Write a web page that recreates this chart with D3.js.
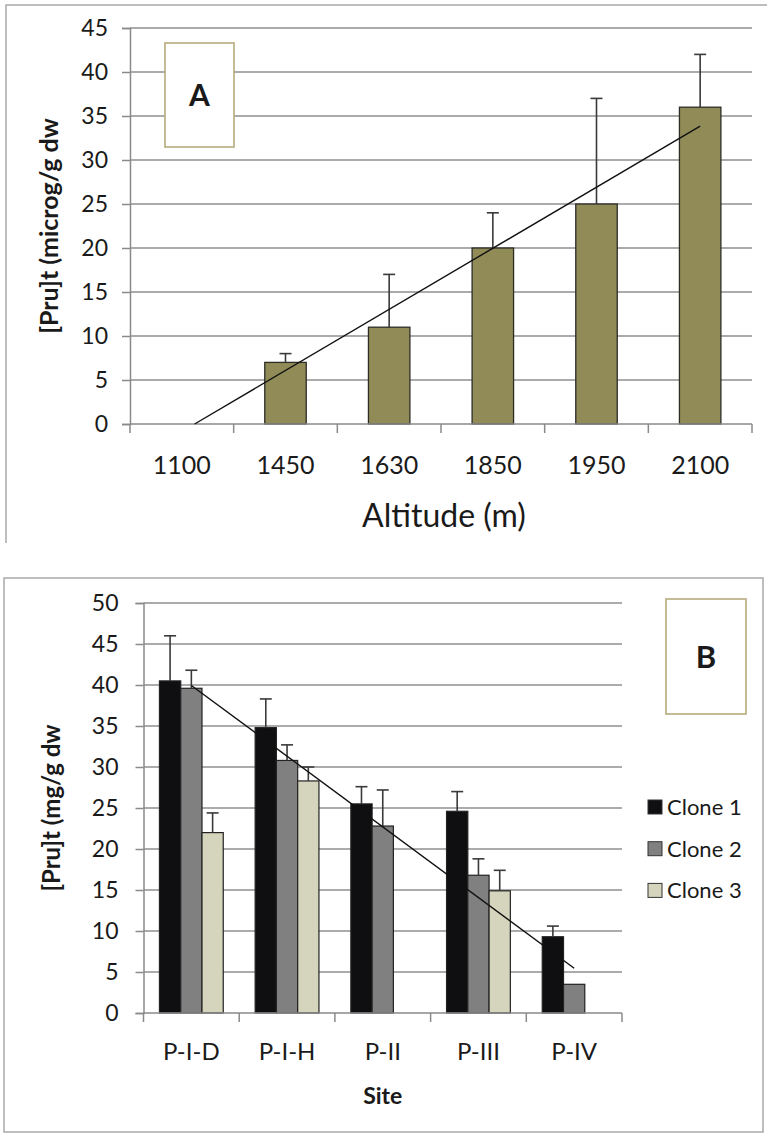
<!DOCTYPE html>
<html>
<head>
<meta charset="utf-8">
<script src="https://cdn.jsdelivr.net/npm/d3@7"></script>
<style>
  html, body { margin: 0; padding: 0; background: #fff; }
  svg { display: block; }
  text { font-family: Lato, "Open Sans", sans-serif; fill: #1a1a1a; }
</style>
</head>
<body>
<svg id="fig" width="767" height="1134"></svg>
<script>
// Panel A: prunasin content by altitude
const altitudes = ["1100", "1450", "1630", "1850", "1950", "2100"];
const pruA = [0, 7, 11, 20, 25, 36];
const pruAErr = [0, 1, 6, 4, 12, 6];
const ticksA = [0, 5, 10, 15, 20, 25, 30, 35, 40, 45];

// Panel B: prunasin content by site and clone
const sites = ["P-I-D", "P-I-H", "P-II", "P-III", "P-IV"];
const cloneNames = ["Clone 1", "Clone 2", "Clone 3"];
const clone1 = [40.5, 34.8, 25.5, 24.6, 9.3];
const clone2 = [39.6, 30.8, 22.8, 16.8, 3.5];
const clone3 = [22.0, 28.3, null, 14.9, null];
const clone1Err = [5.5, 3.5, 2.1, 2.4, 1.3];
const clone2Err = [2.2, 1.9, 4.4, 2.0, 0];
const clone3Err = [2.4, 1.7, null, 2.5, null];
const ticksB = [0, 5, 10, 15, 20, 25, 30, 35, 40, 45, 50];

const svg = d3.select("#fig");
const gridColor = "#8f8f8f";
const axisColor = "#8a8a8a";

// least-squares line through (i+1, v)
function linFit(vals) {
  const pts = vals.map((v, i) => [i + 1, v]).filter(p => p[1] != null);
  const mx = d3.mean(pts, p => p[0]), my = d3.mean(pts, p => p[1]);
  const sxy = d3.sum(pts, p => (p[0] - mx) * (p[1] - my));
  const sxx = d3.sum(pts, p => (p[0] - mx) ** 2);
  const b = sxy / sxx, a = my - b * mx;
  return { a, b };
}

function valueAxis(g, y, ticks, x0, x1, pad) {
  g.append("g").selectAll("line").data(ticks.filter(t => t > 0)).join("line")
    .attr("x1", x0).attr("x2", x1)
    .attr("y1", d => y(d)).attr("y2", d => y(d))
    .attr("stroke", gridColor).attr("stroke-width", 1.5);
  const ax = d3.axisLeft(y).tickValues(ticks).tickSize(8).tickPadding(pad);
  const a = g.append("g").attr("transform", `translate(${x0},0)`).call(ax);
  a.select(".domain").attr("stroke", axisColor).attr("stroke-width", 1.5);
  a.selectAll(".tick line").attr("stroke", axisColor).attr("stroke-width", 1.5);
  a.selectAll(".tick text").attr("font-size", 23).attr("fill", "#1a1a1a")
    .attr("font-family", "Lato, 'Open Sans', sans-serif");
  return a;
}

function categoryAxis(g, x, y0, n) {
  const bw = x.step();
  const r = x.range();
  g.append("line").attr("x1", r[0]).attr("x2", r[1]).attr("y1", y0).attr("y2", y0)
    .attr("stroke", axisColor).attr("stroke-width", 1.5);
  g.append("g").selectAll("line").data(d3.range(n + 1)).join("line")
    .attr("x1", i => r[0] + i * bw).attr("x2", i => r[0] + i * bw)
    .attr("y1", y0).attr("y2", y0 + 9)
    .attr("stroke", axisColor).attr("stroke-width", 1.5);
}

// ---------------- Panel A ----------------
{
  const g = svg.append("g");
  g.append("path").attr("d", "M6,543 V5 H767").attr("fill", "none")
    .attr("stroke", "#a9a9a9").attr("stroke-width", 1.5);

  const x0 = 130, x1 = 752, yTop = 28, yBot = 424;
  const y = d3.scaleLinear().domain([0, 45]).range([yBot, yTop]);
  const x = d3.scaleBand().domain(altitudes).range([x0, x1]).paddingInner(0.6).paddingOuter(0.3);
  const xc = d => x(d) + x.bandwidth() / 2;

  valueAxis(g, y, ticksA, x0, x1, 14);

  const rows = altitudes.map((k, i) => ({ k, v: pruA[i], e: pruAErr[i] }));
  g.append("g").selectAll("rect").data(rows.filter(d => d.v > 0)).join("rect")
    .attr("x", d => x(d.k)).attr("width", x.bandwidth())
    .attr("y", d => y(d.v)).attr("height", d => y(0) - y(d.v))
    .attr("fill", "#918b57").attr("stroke", "#2d2d28").attr("stroke-width", 1.3);

  // error bars (upper only)
  const eg = g.append("g").attr("stroke", "#3a3a3a").attr("stroke-width", 1.6);
  rows.filter(d => d.e > 0).forEach(d => {
    eg.append("line").attr("x1", xc(d.k)).attr("x2", xc(d.k)).attr("y1", y(d.v)).attr("y2", y(d.v + d.e));
    eg.append("line").attr("x1", xc(d.k) - 6).attr("x2", xc(d.k) + 6).attr("y1", y(d.v + d.e)).attr("y2", y(d.v + d.e));
  });

  categoryAxis(g, x, yBot, altitudes.length);

  // linear trend, clipped at the axis minimum
  const f = linFit(pruA);
  const pos = i => xc(altitudes[0]) + (i - 1) * x.step();
  let s = 1;
  if (f.a + f.b * s < 0) s = -f.a / f.b;
  const e = altitudes.length;
  g.append("line")
    .attr("x1", pos(s)).attr("y1", y(f.a + f.b * s))
    .attr("x2", pos(e)).attr("y2", y(f.a + f.b * e))
    .attr("stroke", "#111").attr("stroke-width", 1.4);

  g.append("g").selectAll("text").data(altitudes).join("text")
    .attr("x", d => xc(d)).attr("y", 474).attr("text-anchor", "middle")
    .attr("font-size", 25).text(d => d);

  g.append("text").attr("x", 444).attr("y", 527).attr("text-anchor", "middle")
    .attr("font-size", 32).text("Altitude (m)");

  g.append("text").attr("transform", `translate(58,${(yTop + yBot) / 2}) rotate(-90)`)
    .attr("text-anchor", "middle").attr("font-size", 25).attr("font-weight", 700)
    .text("[Pru]t (microg/g dw");

  g.append("rect").attr("x", 165).attr("y", 43).attr("width", 69).attr("height", 104)
    .attr("fill", "#fff").attr("stroke", "#b7aa7c").attr("stroke-width", 1.6);
  g.append("text").attr("x", 199.5).attr("y", 106).attr("text-anchor", "middle")
    .attr("font-size", 30).attr("font-weight", 700).text("A");
}

// ---------------- Panel B ----------------
{
  const g = svg.append("g");
  g.append("rect").attr("x", 4).attr("y", 578).attr("width", 759).attr("height", 554)
    .attr("fill", "none").attr("stroke", "#a9a9a9").attr("stroke-width", 1.5);

  const x0 = 143.5, x1 = 622, yTop = 603, yBot = 1013;
  const y = d3.scaleLinear().domain([0, 50]).range([yBot, yTop]);
  const x = d3.scaleBand().domain(sites).range([x0, x1]).paddingInner(1.5 / 4.5).paddingOuter(0.75 / 4.5);
  const xs = d3.scaleBand().domain(cloneNames).range([0, x.bandwidth()]);
  const xc = d => x(d) + x.bandwidth() / 2;

  valueAxis(g, y, ticksB, x0, x1, 17);

  const series = [clone1, clone2, clone3];
  const errs = [clone1Err, clone2Err, clone3Err];
  const fills = ["#0f0f12", "#808080", "#d5d4bc"];

  const rows = [];
  sites.forEach((s, i) => cloneNames.forEach((c, j) => {
    if (series[j][i] != null) rows.push({ s, c, j, v: series[j][i], e: errs[j][i] });
  }));

  g.append("g").selectAll("rect").data(rows).join("rect")
    .attr("x", d => x(d.s) + xs(d.c)).attr("width", xs.bandwidth())
    .attr("y", d => y(d.v)).attr("height", d => y(0) - y(d.v))
    .attr("fill", d => fills[d.j]).attr("stroke", "#222").attr("stroke-width", 1.2);

  const eg = g.append("g").attr("stroke", "#3a3a3a").attr("stroke-width", 1.6);
  rows.filter(d => d.e > 0).forEach(d => {
    const cx = x(d.s) + xs(d.c) + xs.bandwidth() / 2;
    eg.append("line").attr("x1", cx).attr("x2", cx).attr("y1", y(d.v)).attr("y2", y(d.v + d.e));
    eg.append("line").attr("x1", cx - 6).attr("x2", cx + 6).attr("y1", y(d.v + d.e)).attr("y2", y(d.v + d.e));
  });

  categoryAxis(g, x, yBot, sites.length);

  // linear trend of Clone 2
  const f = linFit(clone2);
  const pos = i => xc(sites[0]) + (i - 1) * x.step();
  const n = sites.length;
  g.append("line")
    .attr("x1", pos(1)).attr("y1", y(f.a + f.b))
    .attr("x2", pos(n)).attr("y2", y(f.a + f.b * n))
    .attr("stroke", "#111").attr("stroke-width", 1.4);

  g.append("g").selectAll("text").data(sites).join("text")
    .attr("x", d => xc(d)).attr("y", 1060).attr("text-anchor", "middle")
    .attr("font-size", 24).text(d => d);

  g.append("text").attr("x", (x0 + x1) / 2).attr("y", 1104).attr("text-anchor", "middle")
    .attr("font-size", 23).attr("font-weight", 700).text("Site");

  g.append("text").attr("transform", `translate(60,${(yTop + yBot) / 2}) rotate(-90)`)
    .attr("text-anchor", "middle").attr("font-size", 24).attr("font-weight", 700)
    .text("[Pru]t (mg/g dw");

  const lg = g.append("g");
  cloneNames.forEach((c, j) => {
    const cy = 807 + j * 41.7;
    lg.append("rect").attr("x", 648).attr("y", cy - 7).attr("width", 14).attr("height", 14)
      .attr("fill", fills[j]).attr("stroke", "#333").attr("stroke-width", 1);
    lg.append("text").attr("x", 667).attr("y", cy).attr("dy", "0.36em")
      .attr("font-size", 22).text(c);
  });

  g.append("rect").attr("x", 666).attr("y", 599).attr("width", 80).attr("height", 115)
    .attr("fill", "#fff").attr("stroke", "#b7aa7c").attr("stroke-width", 1.6);
  g.append("text").attr("x", 706).attr("y", 668).attr("text-anchor", "middle")
    .attr("font-size", 31).attr("font-weight", 700).text("B");
}
</script>
</body>
</html>
